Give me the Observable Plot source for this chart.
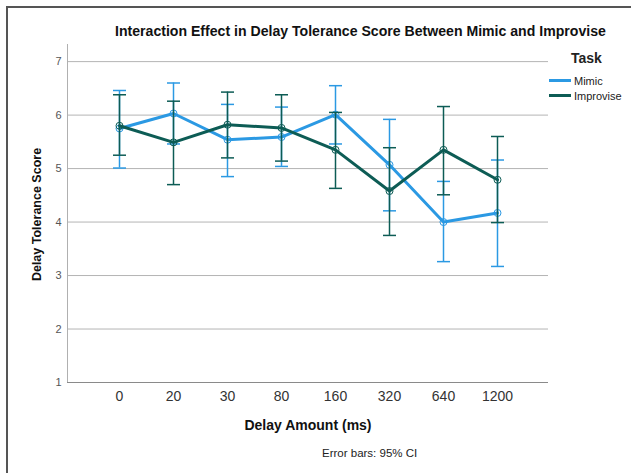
<!DOCTYPE html>
<html>
<head>
<meta charset="utf-8">
<script src="https://cdn.jsdelivr.net/npm/d3@7"></script>
<script src="https://cdn.jsdelivr.net/npm/@observablehq/plot@0.6"></script>
<style>
  html, body { margin: 0; padding: 0; background: #fff; }
  #wrap { position: relative; width: 631px; height: 473px; overflow: hidden; font-family: "Liberation Sans", Arial, sans-serif; }
  #frame { position: absolute; left: 6px; top: 6px; right: -10px; bottom: -10px; border-top: 2px solid #555; border-left: 2px solid #555; pointer-events: none; }
  #title { position: absolute; left: 115px; top: 23px; font-weight: bold; font-size: 14.1px; color: #111; white-space: nowrap; }
  #legend { position: absolute; left: 549px; top: 50px; font-size: 11px; color: #222; }
  #legend .lt { font-weight: bold; font-size: 14px; margin-left: 22px; margin-bottom: 7px; }
  #legend .it { display: flex; align-items: center; height: 15px; }
  #legend .sw { display: inline-block; width: 22px; height: 3px; margin-right: 3px; }
  #caption { position: absolute; left: 322px; top: 447px; font-size: 11.5px; color: #222; }
</style>
</head>
<body>
<div id="wrap">
  <div id="chart"></div>
  <div id="title">Interaction Effect in Delay Tolerance Score Between Mimic and Improvise</div>
  <div id="legend"></div>
  <div id="caption">Error bars: 95% CI</div>
  <div id="frame"></div>
</div>
<script>
// Categories (delay amounts, ms)
const delays = ["0", "20", "30", "80", "160", "320", "640", "1200"];
// Series
const tasks = ["Mimic", "Improvise"];
const mimicMean = [5.75, 6.03, 5.54, 5.59, 6.01, 5.07, 4.00, 4.17];
const mimicLow = [5.01, 5.46, 4.85, 5.04, 5.46, 4.21, 3.26, 3.17];
const mimicHigh = [6.46, 6.60, 6.20, 6.15, 6.55, 5.92, 4.76, 5.16];
const improviseMean = [5.80, 5.49, 5.82, 5.76, 5.35, 4.58, 5.35, 4.79];
const improviseLow = [5.25, 4.70, 5.20, 5.14, 4.63, 3.75, 4.51, 3.99];
const improviseHigh = [6.38, 6.26, 6.43, 6.38, 6.05, 5.39, 6.16, 5.60];
// Axis ticks
const yTicks = [1, 2, 3, 4, 5, 6, 7];
const colors = ["#2b99e3", "#0d5c55"];

const rows = [];
delays.forEach((d, i) => {
  rows.push({delay: d, task: "Mimic", mean: mimicMean[i], lo: mimicLow[i], hi: mimicHigh[i]});
});
delays.forEach((d, i) => {
  rows.push({delay: d, task: "Improvise", mean: improviseMean[i], lo: improviseLow[i], hi: improviseHigh[i]});
});

const cap = {
  draw(context, size) {
    const w = Math.sqrt(size / Math.PI);
    context.moveTo(-w, 0);
    context.lineTo(w, 0);
  }
};

const marks = [
  Plot.ruleY(yTicks.filter(t => t > 1), {stroke: "#b4b4b4", strokeWidth: 1}),
  Plot.frame({anchor: "left", stroke: "#b0b0b0"}),
  Plot.axisY({ticks: yTicks, tickFormat: "d", tickSize: 0, tickPadding: 6, fontSize: 11, color: "#555", label: null}),
  Plot.axisX({tickSize: 0, tickPadding: 9, fontSize: 14, color: "#333", label: null}),
  Plot.ruleY([1], {stroke: "#8a8a8a", strokeWidth: 1.2}),
  Plot.text(["Delay Amount (ms)"], {frameAnchor: "bottom", dy: 47, fontSize: 14, fontWeight: "bold", fill: "#111"}),
  Plot.text(["Delay Tolerance Score"], {frameAnchor: "left", textAnchor: "middle", dx: -31, dy: 1, rotate: -90, fontSize: 12.5, fontWeight: "bold", fill: "#111"})
];

tasks.forEach((t, k) => {
  const data = rows.filter(r => r.task === t);
  const c = colors[k];
  marks.push(
    Plot.ruleX(data, {x: "delay", y1: "lo", y2: "hi", stroke: c, strokeWidth: 1.5}),
    Plot.dot(data, {x: "delay", y: "lo", symbol: cap, r: 6.5, stroke: c, strokeWidth: 1.5}),
    Plot.dot(data, {x: "delay", y: "hi", symbol: cap, r: 6.5, stroke: c, strokeWidth: 1.5}),
    Plot.line(data, {x: "delay", y: "mean", stroke: c, strokeWidth: 3}),
    Plot.dot(data, {x: "delay", y: "mean", r: 3.5, stroke: c, fill: "none", strokeWidth: 1})
  );
});

const chart = Plot.plot({
  width: 631,
  height: 473,
  marginLeft: 67,
  marginRight: 83,
  marginTop: 44,
  marginBottom: 91,
  style: {fontFamily: "'Liberation Sans', Arial, sans-serif", background: "#fff"},
  x: {type: "point", domain: delays, padding: 0.95},
  y: {domain: [1, 7.32]},
  marks
});
document.getElementById("chart").appendChild(chart);

const legend = document.getElementById("legend");
const lt = document.createElement("div");
lt.className = "lt";
lt.textContent = "Task";
legend.appendChild(lt);
tasks.forEach((t, k) => {
  const it = document.createElement("div");
  it.className = "it";
  const sw = document.createElement("span");
  sw.className = "sw";
  sw.style.background = colors[k];
  it.appendChild(sw);
  it.appendChild(document.createTextNode(t));
  legend.appendChild(it);
});
</script>
</body>
</html>
